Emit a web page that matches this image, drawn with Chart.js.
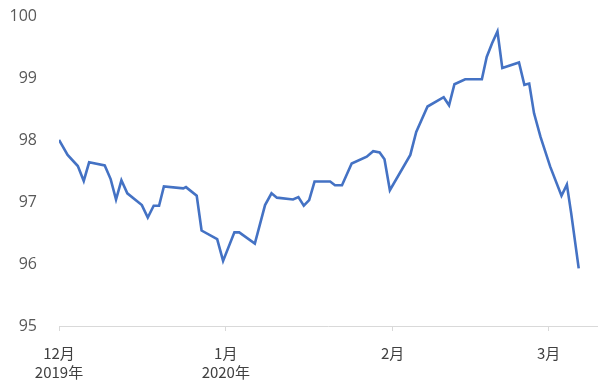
<!DOCTYPE html>
<html>
<head>
<meta charset="utf-8">
<script src="https://cdn.jsdelivr.net/npm/chart.js@4/dist/chart.umd.min.js"></script>
<style>
html,body{margin:0;padding:0;background:#fff;}
#wrap{width:600px;height:392px;position:relative;}
</style>
</head>
<body>
<div id="wrap"><canvas id="c"></canvas></div>
<script>
// Days since 2019-12-01
const days = [0, 1.6, 3.5, 4.6, 5.6, 8.5, 9.6, 10.6, 11.6, 12.7, 15.4, 16.5, 17.6, 18.6, 19.5, 23.1, 23.6, 25.6, 26.5, 29.4, 30.5, 32.6, 33.5, 36.4, 38.3, 39.5, 40.5, 43.5, 44.5, 45.5, 46.5, 47.5, 50.4, 51.3, 52.6, 54.4, 57.2, 58.4, 59.6, 60.5, 61.5, 65.3, 66.4, 68.5, 71.5, 72.5, 73.5, 75.5, 78.6, 79.5, 80.5, 81.5, 82.4, 85.5, 86.5, 87.4, 88.3, 89.5, 91.3, 93.4, 94.4, 95.2, 96.6];
const values = [98.00, 97.76, 97.58, 97.34, 97.64, 97.59, 97.37, 97.04, 97.35, 97.14, 96.95, 96.75, 96.94, 96.94, 97.25, 97.22, 97.24, 97.10, 96.54, 96.40, 96.05, 96.51, 96.51, 96.33, 96.95, 97.14, 97.07, 97.04, 97.08, 96.94, 97.03, 97.33, 97.33, 97.27, 97.27, 97.62, 97.73, 97.82, 97.80, 97.69, 97.19, 97.76, 98.13, 98.54, 98.69, 98.56, 98.90, 98.98, 98.98, 99.34, 99.56, 99.75, 99.16, 99.25, 98.89, 98.91, 98.43, 98.05, 97.57, 97.10, 97.28, 96.82, 95.93];
const tickDays = [0, 31, 62, 91];
const tickLabels = [["12月", "2019年"], ["1月", "2020年"], ["2月"], ["3月"]];
const yTicks = [95, 96, 97, 98, 99, 100];

const points = days.map((d, i) => ({x: d, y: values[i]}));

new Chart(document.getElementById('c'), {
  type: 'line',
  data: {
    datasets: [{
      data: points,
      borderColor: '#4472C4',
      borderWidth: 2.6,
      pointRadius: 0,
      tension: 0,
      fill: false
    }]
  },
  options: {
    responsive: true,
    maintainAspectRatio: false,
    animation: false,
    layout: {padding: {top: 16, right: 3, left: 0, bottom: 0}},
    plugins: {legend: {display: false}, tooltip: {enabled: false}},
    scales: {
      x: {
        type: 'linear',
        min: 0,
        max: 100,
        afterBuildTicks: (axis) => { axis.ticks = tickDays.map(v => ({value: v})); },
        afterFit: (axis) => { axis.height = 66; axis.paddingLeft = 0; axis.paddingRight = 0; },
        border: {display: true, color: '#d9d9d9', width: 1},
        grid: {display: true, drawOnChartArea: false, drawTicks: true, tickLength: 5, color: '#d9d9d9'},
        ticks: {
          autoSkip: false,
          maxRotation: 0,
          padding: 13,
          color: '#404040',
          font: {family: '"Noto Sans CJK JP", "Noto Sans", sans-serif', size: 15, lineHeight: 1.27},
          callback: (v) => { const i = tickDays.indexOf(v); return i >= 0 ? tickLabels[i] : ''; }
        }
      },
      y: {
        min: 95,
        max: 100,
        afterBuildTicks: (axis) => { axis.ticks = yTicks.map(v => ({value: v})); },
        afterFit: (axis) => { axis.width = 59; axis.paddingTop = 0; axis.paddingBottom = 0; },
        border: {display: false},
        grid: {display: false, drawTicks: false},
        ticks: {
          padding: 22,
          color: '#595959',
          font: {family: '"Open Sans", "Noto Sans", sans-serif', size: 16}
        }
      }
    }
  }
});
</script>
</body>
</html>
